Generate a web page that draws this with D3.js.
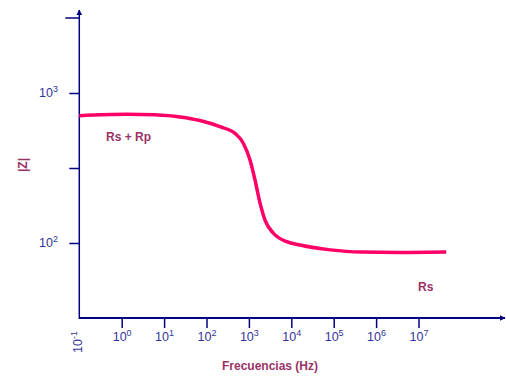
<!DOCTYPE html>
<html>
<head>
<meta charset="utf-8">
<script src="https://cdn.jsdelivr.net/npm/d3@7"></script>
<style>
  body { margin: 0; background: #fff; }
  svg { display: block; font-family: "Liberation Sans", Arial, sans-serif; }
</style>
</head>
<body>
<div id="chart"></div>
<script>
// data
const frequencies = [0.1, 1.3, 6, 24, 70, 208, 470, 738, 1062, 1393, 1828, 2400, 3700, 7800, 16000, 83000, 430000, 3.7e6, 4.5e7];
const impedance   = [706, 722, 715, 692, 655, 596, 538, 462, 357, 263, 185, 142, 117, 102, 97, 90, 87, 86.5, 87];
const xTickExps = [0, 1, 2, 3, 4, 5, 6, 7];
const yTickExps = [2, 3];
const yMinorTicks = [Math.pow(10, 2.5)];
const yTopTick = Math.pow(10, 3.5);
const seriesLabels = ["Rs + Rp", "Rs"];

const width = 506, height = 376;
const axisColor = "#000080", labelColor = "#333399", titleColor = "#993366", lineColor = "#ff0066";

const svg = d3.select("#chart").append("svg")
    .attr("width", width)
    .attr("height", height);

// scales
const x = d3.scaleLog().domain([0.1, 1e7]).range([79.3, 418.5]);
const y = d3.scaleLog().domain([Math.pow(10, 1.5), Math.pow(10, 3.5)]).range([318, 18]);

// arrow heads
const defs = svg.append("defs");
defs.append("marker")
    .attr("id", "arrow")
    .attr("viewBox", "0 0 10 10")
    .attr("refX", 9).attr("refY", 5)
    .attr("markerWidth", 6).attr("markerHeight", 6)
    .attr("markerUnits", "userSpaceOnUse")
    .attr("orient", "auto")
    .append("path")
    .attr("d", "M0,0L10,5L0,10Z")
    .attr("fill", axisColor);

// x axis ticks
const xAxis = d3.axisBottom(x)
    .tickValues(xTickExps.map(e => Math.pow(10, e)))
    .tickSize(10)
    .tickFormat("");
const gx = svg.append("g")
    .attr("transform", `translate(0,${y.range()[0]})`)
    .call(xAxis);
gx.select(".domain").remove();
gx.selectAll(".tick line").attr("stroke", axisColor).attr("stroke-width", 1.5);

// y axis ticks
const yAxis = d3.axisLeft(y)
    .tickValues(yTickExps.map(e => Math.pow(10, e)).concat(yMinorTicks))
    .tickSize(10)
    .tickFormat("");
const gy = svg.append("g")
    .attr("transform", `translate(${x.range()[0]},0)`)
    .call(yAxis);
gy.select(".domain").remove();
gy.selectAll(".tick line").attr("stroke", axisColor).attr("stroke-width", 1.5);

// longer tick at the top
svg.append("line")
    .attr("x1", x.range()[0] - 14).attr("x2", x.range()[0])
    .attr("y1", y(yTopTick)).attr("y2", y(yTopTick))
    .attr("stroke", axisColor).attr("stroke-width", 1.5);

// axis lines with arrows
svg.append("line")
    .attr("x1", x.range()[0]).attr("x2", 505)
    .attr("y1", y.range()[0]).attr("y2", y.range()[0])
    .attr("stroke", axisColor).attr("stroke-width", 2)
    .attr("marker-end", "url(#arrow)");
svg.append("line")
    .attr("x1", x.range()[0]).attr("x2", x.range()[0])
    .attr("y1", y.range()[0] + 1).attr("y2", 10)
    .attr("stroke", axisColor).attr("stroke-width", 1.5)
    .attr("marker-end", "url(#arrow)");

// power-of-ten label helper
function powLabel(g, exp) {
    g.append("tspan").text("10");
    g.append("tspan").attr("dy", -5).attr("font-size", 9).text(exp);
}

// x tick labels
xTickExps.forEach(e => {
    const t = svg.append("text")
        .attr("x", x(Math.pow(10, e)) - 9)
        .attr("y", 341)
        .attr("font-size", 12.5)
        .attr("fill", labelColor);
    powLabel(t, e);
});

// 10^-1 rotated at origin
const t0 = svg.append("text")
    .attr("transform", `translate(${x.range()[0] + 3},353) rotate(-90)`)
    .attr("font-size", 12.5)
    .attr("fill", labelColor);
powLabel(t0, "-1");

// y tick labels
yTickExps.forEach(e => {
    const t = svg.append("text")
        .attr("x", 39)
        .attr("y", y(Math.pow(10, e)) + 4)
        .attr("font-size", 12.5)
        .attr("fill", labelColor);
    powLabel(t, e);
});

// axis titles
svg.append("text")
    .attr("x", 270).attr("y", 370)
    .attr("text-anchor", "middle")
    .attr("font-size", 12)
    .attr("font-weight", "bold")
    .attr("fill", titleColor)
    .text("Frecuencias (Hz)");

svg.append("text")
    .attr("transform", "translate(27,165) rotate(-90)")
    .attr("text-anchor", "middle")
    .attr("font-size", 12)
    .attr("font-weight", "bold")
    .attr("fill", titleColor)
    .text("|Z|");

// impedance curve
const points = frequencies.map((f, i) => [f, impedance[i]]);
const line = d3.line()
    .x(d => x(d[0]))
    .y(d => y(d[1]))
    .curve(d3.curveMonotoneX);

svg.append("path")
    .datum(points)
    .attr("d", line)
    .attr("fill", "none")
    .attr("stroke", lineColor)
    .attr("stroke-width", 3.5)
    .attr("stroke-linecap", "butt");

// series labels
svg.append("text")
    .attr("x", 106).attr("y", 141)
    .attr("font-size", 12)
    .attr("font-weight", "bold")
    .attr("fill", titleColor)
    .text(seriesLabels[0]);

svg.append("text")
    .attr("x", 418).attr("y", 291)
    .attr("font-size", 12)
    .attr("font-weight", "bold")
    .attr("fill", titleColor)
    .text(seriesLabels[1]);
</script>
</body>
</html>
